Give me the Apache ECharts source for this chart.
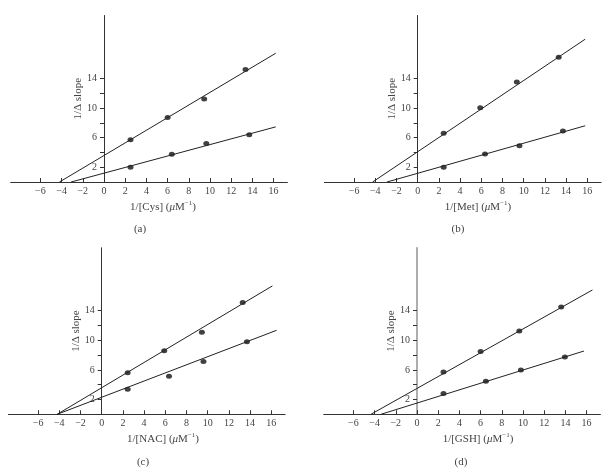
<!DOCTYPE html>
<html>
<head>
<meta charset="utf-8">
<script src="https://cdn.jsdelivr.net/npm/echarts@6/dist/echarts.min.js"></script>
<style>
  html, body { margin: 0; padding: 0; background: #fff; }
  #chart { width: 613px; height: 472px; }
</style>
</head>
<body>
<div id="chart"></div>
<script>
// 刻度
const xTicks = [-6, -4, -2, 0, 2, 4, 6, 8, 10, 12, 14, 16]
const yTicks = [2, 4, 6, 8, 10, 12, 14]
const yLabels = [2, 6, 10, 14]
const xRange = [-8.8, 17.3]
const yRange = [0, 22.5]

// 面板
const captions = ['(a)', '(b)', '(c)', '(d)']
const ligands = ['Cys', 'Met', 'NAC', 'GSH']

// 数据点
const cysUpper = [[2.5, 5.7], [6.0, 8.7], [9.45, 11.2], [13.35, 15.2]]
const cysLower = [[2.5, 2.0], [6.4, 3.75], [9.65, 5.2], [13.7, 6.4]]
const metUpper = [[2.45, 6.6], [5.9, 10.05], [9.35, 13.5], [13.3, 16.85]]
const metLower = [[2.45, 2.0], [6.35, 3.8], [9.6, 4.9], [13.7, 6.9]]
const nacUpper = [[2.45, 5.6], [5.9, 8.6], [9.45, 11.1], [13.3, 15.1]]
const nacLower = [[2.45, 3.4], [6.35, 5.15], [9.6, 7.15], [13.7, 9.8]]
const gshUpper = [[2.5, 5.7], [6.0, 8.5], [9.65, 11.25], [13.6, 14.5]]
const gshLower = [[2.5, 2.8], [6.5, 4.45], [9.8, 6.0], [13.95, 7.75]]

// 拟合直线端点
const cysUpperFit = [[-4.2, 0], [16.2, 17.4]]
const cysLowerFit = [[-3.1, 0], [16.2, 7.45]]
const metUpperFit = [[-4.25, 0], [15.8, 19.3]]
const metLowerFit = [[-2.9, 0], [15.8, 7.6]]
const nacUpperFit = [[-4.2, 0], [16.1, 17.35]]
const nacLowerFit = [[-4.2, 0], [16.5, 11.35]]
const gshUpperFit = [[-4.35, 0], [16.55, 16.8]]
const gshLowerFit = [[-3.4, 0], [15.75, 8.55]]

const points = [[cysUpper, cysLower], [metUpper, metLower], [nacUpper, nacLower], [gshUpper, gshLower]]
const fits = [[cysUpperFit, cysLowerFit], [metUpperFit, metLowerFit], [nacUpperFit, nacLowerFit], [gshUpperFit, gshLowerFit]]

// 布局 (px)
const gridPos = [
	{ left: 10.7, top: 15.5 },
	{ left: 324.4, top: 15.5 },
	{ left: 8.4, top: 247.8 },
	{ left: 323.7, top: 247.8 }
]
const gridW = 276.7
const gridH = 166.5
// y轴移到 x=0 处
const yShift = -gridW * (0 - xRange[0]) / (xRange[1] - xRange[0])
const namePos = [[163, 207], [478, 207], [163, 439], [478, 439]]
const capPos = [[140, 229], [458, 229], [143, 462], [461, 462]]

const FONT = '"Liberation Serif", "DejaVu Serif", serif'
const TXT = '#444'

const chart = echarts.init(document.getElementById('chart'))

const grid = [], xAxis = [], yAxis = [], series = [], graphic = []
for (let i = 0; i < 4; i++) {
	grid.push({
		left: gridPos[i].left, top: gridPos[i].top, width: gridW, height: gridH,
		containLabel: false, outerBoundsMode: 'none'
	})
	xAxis.push({
		type: 'value', gridIndex: i, min: xRange[0], max: xRange[1],
		splitLine: { show: false },
		axisLine: { onZero: false, lineStyle: { color: '#333', width: 1 } },
		axisTick: { inside: true, length: 4, customValues: xTicks, lineStyle: { color: '#333' } },
		axisLabel: {
			customValues: xTicks, margin: 4, color: TXT, fontFamily: FONT, fontSize: 10,
			formatter: v => (v < 0 ? '\u2212' + Math.abs(v) : String(v))
		}
	})
	yAxis.push({
		type: 'value', gridIndex: i, min: yRange[0], max: yRange[1],
		position: 'left', offset: yShift,
		name: '1/\u0394 slope', nameLocation: 'middle', nameGap: 20, nameRotate: 90,
		nameMoveOverlap: false,
		nameTextStyle: { color: TXT, fontFamily: FONT, fontSize: 11 },
		splitLine: { show: false },
		axisLine: { onZero: false, lineStyle: { color: i === 3 ? '#999' : '#333', width: i === 3 ? 1.6 : 1 } },
		axisTick: { length: 4, customValues: yTicks, lineStyle: { color: '#333' } },
		axisLabel: { customValues: yLabels, margin: 7, color: TXT, fontFamily: FONT, fontSize: 10 }
	})
	for (let k = 0; k < 2; k++) {
		series.push({
			type: 'line', xAxisIndex: i, yAxisIndex: i, data: fits[i][k],
			showSymbol: false, silent: true, animation: false,
			lineStyle: { color: '#222', width: 1 }
		})
		series.push({
			type: 'scatter', xAxisIndex: i, yAxisIndex: i, data: points[i][k],
			symbol: 'circle', symbolSize: [6, 5], animation: false,
			itemStyle: { color: '#111' }
		})
	}
	graphic.push({
		type: 'text', x: namePos[i][0], y: namePos[i][1],
		style: {
			text: '{t|1/[' + ligands[i] + '] (}{i|\u03bc}{t|M}{s|\u22121}{t|)}',
			align: 'center', verticalAlign: 'middle',
			rich: {
				t: { fontFamily: FONT, fontSize: 11, fill: TXT, lineHeight: 14 },
				i: { fontFamily: FONT, fontSize: 11, fontStyle: 'italic', fill: TXT, lineHeight: 14 },
				s: { fontFamily: FONT, fontSize: 7, fill: TXT, verticalAlign: 'top', lineHeight: 9 }
			}
		}
	})
	graphic.push({
		type: 'text', x: capPos[i][0], y: capPos[i][1],
		style: { text: captions[i], align: 'center', verticalAlign: 'middle', font: '11px ' + FONT, fill: TXT }
	})
}

chart.setOption({ animation: false, grid, xAxis, yAxis, series, graphic })
window.addEventListener('resize', function () {
	chart.resize()
})
</script>
</body>
</html>
